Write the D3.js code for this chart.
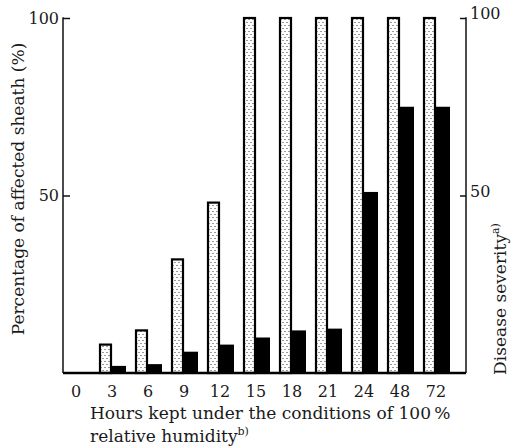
<!DOCTYPE html>
<html>
<head>
<meta charset="utf-8">
<script src="https://cdn.jsdelivr.net/npm/d3@7"></script>
<style>
  html, body { margin: 0; padding: 0; background: #fff; }
  svg { display: block; }
  svg text { font-family: "DejaVu Serif", serif !important; fill: #1a1a1a; }
</style>
</head>
<body>
<svg id="chart" width="518" height="447"></svg>
<script>
// Hours kept at 100% relative humidity
const hours = ["0", "3", "6", "9", "12", "15", "18", "21", "24", "48", "72"];
// Percentage of affected sheath (%)
const affectedSheath = [0, 8, 12, 32, 48, 100, 100, 100, 100, 100, 100];
// Disease severity
const diseaseSeverity = [0, 2, 2.5, 6, 8, 10, 12, 12.5, 51, 75, 75];
// Axis tick labels
const yTicks = [50, 100];

const svg = d3.select("#chart");

const plotLeft = 63, plotRight = 466, plotTop = 18, plotBottom = 373;

const x = d3.scaleBand().domain(hours).range([58, 454]).paddingInner(0).paddingOuter(0);
const yL = d3.scaleLinear().domain([0, 100]).range([plotBottom, plotTop]);
const yR = d3.scaleLinear().domain([0, 100]).range([plotBottom, plotTop]);

// dotted fill for the sheath bars
const defs = svg.append("defs");
const pat = defs.append("pattern")
  .attr("id", "dots").attr("patternUnits", "userSpaceOnUse")
  .attr("width", 4).attr("height", 6);
pat.append("rect").attr("width", 4).attr("height", 6).attr("fill", "#fff");
pat.append("circle").attr("cx", 1).attr("cy", 1.5).attr("r", 0.6).attr("fill", "#222");
pat.append("circle").attr("cx", 3).attr("cy", 4.5).attr("r", 0.6).attr("fill", "#222");

const center = d => x(d) + x.bandwidth() / 2;

// sheath bars (dotted, outlined)
svg.append("g").selectAll("rect")
  .data(hours.map((h, i) => ({ h, v: affectedSheath[i] })).filter(d => d.v > 0))
  .join("rect")
  .attr("x", d => center(d.h) - 12)
  .attr("width", 11)
  .attr("y", d => yL(d.v))
  .attr("height", d => plotBottom - yL(d.v))
  .attr("fill", "url(#dots)")
  .attr("stroke", "#000")
  .attr("stroke-width", 2.2);

// severity bars (solid)
svg.append("g").selectAll("rect")
  .data(hours.map((h, i) => ({ h, v: diseaseSeverity[i] })).filter(d => d.v > 0))
  .join("rect")
  .attr("x", d => center(d.h))
  .attr("width", 14)
  .attr("y", d => yR(d.v))
  .attr("height", d => plotBottom - yR(d.v))
  .attr("fill", "#000");

// left axis
const axL = svg.append("g").attr("transform", `translate(${plotLeft},0)`)
  .call(d3.axisRight(yL).tickValues(yTicks).tickSize(7).tickFormat(d3.format("d")));
axL.select(".domain").remove();
axL.selectAll(".tick line").attr("stroke", "#111").attr("stroke-width", 1.5);
axL.selectAll(".tick text").attr("x", -4).attr("text-anchor", "end").style("font-size", "16px");
svg.append("line").attr("x1", plotLeft).attr("x2", plotLeft).attr("y1", yL(100) - 0.7).attr("y2", plotBottom)
  .attr("stroke", "#111").attr("stroke-width", 1.5);

// right axis
const axR = svg.append("g").attr("transform", `translate(${plotRight},0)`)
  .call(d3.axisLeft(yR).tickValues(yTicks).tickSize(6).tickFormat(d3.format("d")));
axR.select(".domain").remove();
axR.selectAll(".tick line").attr("stroke", "#111").attr("stroke-width", 1.5);
axR.selectAll(".tick text").attr("x", 4).attr("dy", "0.05em").attr("text-anchor", "start").style("font-size", "16px");
svg.append("line").attr("x1", plotRight).attr("x2", plotRight).attr("y1", yR(100) - 0.7).attr("y2", plotBottom)
  .attr("stroke", "#111").attr("stroke-width", 1.5);

// baseline
svg.append("line").attr("x1", plotLeft).attr("x2", plotRight).attr("y1", plotBottom).attr("y2", plotBottom)
  .attr("stroke", "#000").attr("stroke-width", 2.5);

// category labels
const axB = svg.append("g").attr("transform", `translate(0,${plotBottom})`)
  .call(d3.axisBottom(x).tickSize(0).tickPadding(13));
axB.select(".domain").remove();
axB.selectAll(".tick text").style("font-size", "16px");

// scale a title's font so it spans the given width
function fitText(sel, width) {
  const n = sel.node();
  const w = n.getComputedTextLength();
  const fs = parseFloat(sel.style("font-size"));
  sel.style("font-size", (fs * width / w).toFixed(2) + "px");
}

// axis titles
const t1 = svg.append("text").attr("x", 90).attr("y", 419).style("font-size", "17px")
  .text("Hours kept under the conditions of 100\u2009%");
fitText(t1, 361);
const fsTitle = t1.style("font-size");

const t2 = svg.append("text").attr("x", 90).attr("y", 442).style("font-size", fsTitle);
t2.append("tspan").text("relative humidity");
t2.append("tspan").attr("dy", -7).style("font-size", "11px").text("b)");

svg.append("text")
  .attr("transform", "translate(24,189) rotate(-90)")
  .attr("text-anchor", "middle").style("font-size", fsTitle)
  .text("Percentage of affected sheath (%)");

const tr = svg.append("text")
  .attr("transform", "translate(506,299) rotate(-90)")
  .attr("text-anchor", "middle").style("font-size", fsTitle);
tr.append("tspan").text("Disease severity");
tr.append("tspan").attr("dy", -7).style("font-size", "11px").text("a)");
</script>
</body>
</html>
